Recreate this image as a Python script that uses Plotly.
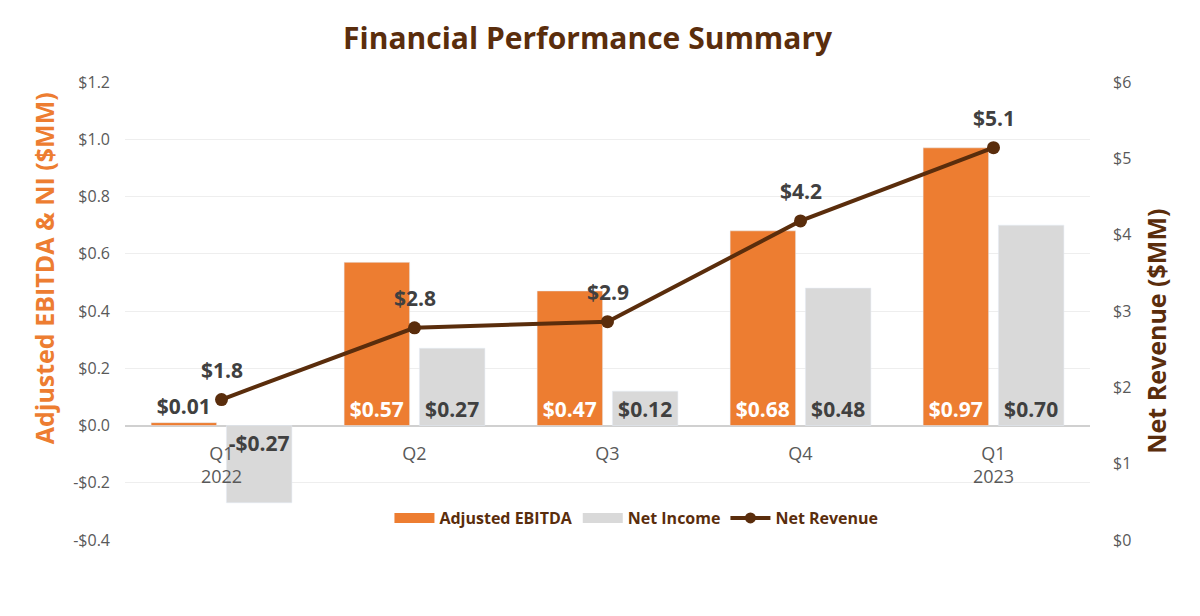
import plotly.graph_objects as go

categories = ["Q1<br>2022", "Q2", "Q3", "Q4", "Q1<br>2023"]
adj_ebitda = [0.01, 0.57, 0.47, 0.68, 0.97]
net_income = [-0.27, 0.27, 0.12, 0.48, 0.70]
net_revenue = [1.84, 2.78, 2.86, 4.18, 5.14]

left_tickvals = [-0.4, -0.2, 0.0, 0.2, 0.4, 0.6, 0.8, 1.0, 1.2]
left_ticktext = ["-$0.4", "-$0.2", "$0.0", "$0.2", "$0.4", "$0.6", "$0.8", "$1.0", "$1.2"]
right_tickvals = [0, 1, 2, 3, 4, 5, 6]
right_ticktext = ["$0", "$1", "$2", "$3", "$4", "$5", "$6"]

ORANGE = "#ED7D31"
GRAY = "#D9D9D9"
BROWN = "#5A2D0C"
DARK = "#404040"
FONT = "Open Sans, Lato, sans-serif"


def money(v, d):
    s = f"${abs(v):.{d}f}"
    return "-" + s if v < 0 else s


fig = go.Figure()

fig.add_trace(go.Bar(
    x=categories, y=adj_ebitda, name="Adjusted EBITDA",
    marker=dict(color=ORANGE), showlegend=False,
    text=[money(v, 2) for v in adj_ebitda],
    textposition=["outside" if v < 0.1 else "inside" for v in adj_ebitda],
    insidetextanchor="start", textangle=0,
    insidetextfont=dict(color="white", size=21, family=FONT, weight="bold"),
    outsidetextfont=dict(color=DARK, size=21, family=FONT, weight="bold"),
    constraintext="none", cliponaxis=False,
    yaxis="y", hoverinfo="skip",
))
fig.add_trace(go.Bar(
    x=categories, y=net_income, name="Net Income",
    marker=dict(color=GRAY), showlegend=False,
    text=[money(v, 2) for v in net_income],
    textposition="inside",
    insidetextanchor="start", textangle=0,
    insidetextfont=dict(color=DARK, size=21, family=FONT, weight="bold"),
    constraintext="none", cliponaxis=False,
    yaxis="y", hoverinfo="skip",
))
fig.add_trace(go.Scatter(
    x=categories, y=net_revenue, name="Net Revenue",
    mode="lines+markers",
    line=dict(color=BROWN, width=4),
    marker=dict(color=BROWN, size=13),
    cliponaxis=False, showlegend=False,
    yaxis="y2", hoverinfo="skip",
))

# legend entries (swatches styled like the reference)
fig.add_trace(go.Scatter(x=[None], y=[None], name="Adjusted EBITDA", mode="lines",
                         line=dict(color=ORANGE, width=10), yaxis="y"))
fig.add_trace(go.Scatter(x=[None], y=[None], name="Net Income", mode="lines",
                         line=dict(color=GRAY, width=10), yaxis="y"))
fig.add_trace(go.Scatter(x=[None], y=[None], name="Net Revenue", mode="lines+markers",
                         line=dict(color=BROWN, width=4), marker=dict(color=BROWN, size=11),
                         yaxis="y"))

for c, v in zip(categories, net_revenue):
    fig.add_annotation(x=c, y=v, xref="x", yref="y2", text=f"<b>{money(v, 1)}</b>",
                       showarrow=False, yshift=30,
                       font=dict(color=DARK, size=21, family=FONT))

fig.update_layout(
    width=1200, height=616,
    paper_bgcolor="white", plot_bgcolor="white",
    margin=dict(l=117, r=118, t=74, b=84),
    font=dict(family=FONT, color="#595959", size=16),
    title=dict(text="<b>Financial Performance Summary</b>", x=0.483, xanchor="center",
               y=0.951, yanchor="middle",
               font=dict(size=30, color=BROWN, family=FONT)),
    barmode="group", bargap=0.22, bargroupgap=0.13,
    showlegend=True,
    legend=dict(orientation="h", x=0.53, xanchor="center", y=0.048, yanchor="middle",
                font=dict(size=16, color=BROWN, family=FONT, weight="bold"),
                bgcolor="rgba(0,0,0,0)", itemwidth=40, tracegroupgap=0),
    xaxis=dict(type="category", anchor="free", position=0.25,
               showline=False, showgrid=False, ticks="",
               tickfont=dict(size=18, color="#595959"), ticklabelstandoff=15),
    yaxis=dict(range=[-0.4, 1.2], tickvals=left_tickvals, ticktext=left_ticktext,
               showgrid=True, gridcolor="#EEEEEE", gridwidth=1,
               zeroline=True, zerolinecolor="#D0D0D0", zerolinewidth=1.5,
               tickfont=dict(size=16, color="#595959"), ticklabelstandoff=14,
               showline=False),
    yaxis2=dict(range=[0, 6], tickvals=right_tickvals, ticktext=right_ticktext,
                overlaying="y", side="right", showgrid=False, zeroline=False,
                tickfont=dict(size=16, color="#595959"), ticklabelstandoff=22),
)

fig.add_annotation(text="<b>Adjusted EBITDA & NI ($MM)</b>", xref="paper", yref="paper",
                   x=-0.083, y=0.593, xanchor="center", yanchor="middle",
                   textangle=-90, showarrow=False,
                   font=dict(size=25, color=ORANGE, family=FONT))
fig.add_annotation(text="<b>Net Revenue ($MM)</b>", xref="paper", yref="paper",
                   x=1.069, y=0.456, xanchor="center", yanchor="middle",
                   textangle=-90, showarrow=False,
                   font=dict(size=25, color=BROWN, family=FONT))

fig.write_html("out.html")
